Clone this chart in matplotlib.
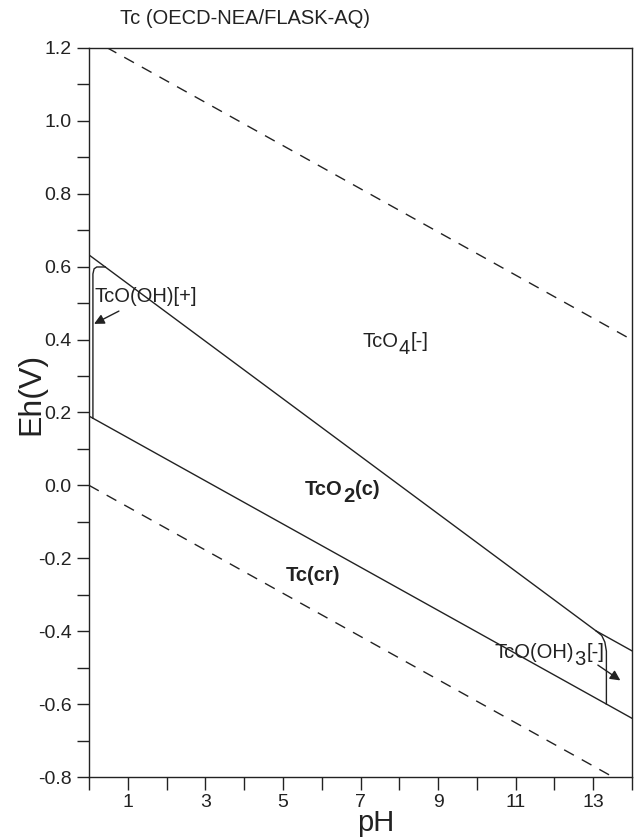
import numpy as np
import matplotlib
matplotlib.use("Agg")
import matplotlib.pyplot as plt

plt.rcParams['font.family'] = ['Liberation Sans', 'DejaVu Sans']

# Eh-pH diagram for Tc
# water stability limits (dashed)
water_ph = [0.0, 14.0]
water_upper = [1.228, 0.399]
water_lower = [0.0, -0.829]

# TcO4[-] / TcO2(c) boundary, kinks at the TcO(OH)3[-] triple point
upper_ph = [0.0, 13.07, 14.0]
upper_eh = [0.632, -0.399, -0.454]

# TcO2(c) / Tc(cr) boundary
lower_ph = [0.0, 14.0]
lower_eh = [0.19, -0.639]

# small TcO(OH)[+] field at low pH
tcooh_ph = [0.42, 0.2, 0.13, 0.1, 0.1]
tcooh_eh = [0.599, 0.599, 0.594, 0.58, 0.184]

# small TcO(OH)3[-] field at high pH
tcooh3_ph = [13.07, 13.22, 13.30, 13.34, 13.34]
tcooh3_eh = [-0.399, -0.412, -0.43, -0.455, -0.600]

xticks = list(range(0, 15))
xlabels = ["", "1", "", "3", "", "5", "", "7", "", "9", "", "11", "", "13", ""]
yticks = [-0.8, -0.7, -0.6, -0.5, -0.4, -0.3, -0.2, -0.1, 0.0, 0.1, 0.2,
          0.3, 0.4, 0.5, 0.6, 0.7, 0.8, 0.9, 1.0, 1.1, 1.2]
ylabels = ["-0.8", "", "-0.6", "", "-0.4", "", "-0.2", "", "0.0", "", "0.2",
           "", "0.4", "", "0.6", "", "0.8", "", "1.0", "", "1.2"]

fig = plt.figure(figsize=(6.36, 8.4), dpi=100)
ax = fig.add_axes([0.140, 0.075, 0.8537, 0.868])

lc = "#222222"
fs = 14.5
dash = (0, (8, 6.5))
ax.plot(water_ph, water_upper, color=lc, lw=1.0, ls=dash)
ax.plot(water_ph, water_lower, color=lc, lw=1.0, ls=dash)
ax.plot(upper_ph, upper_eh, color=lc, lw=1.0)
ax.plot(lower_ph, lower_eh, color=lc, lw=1.0)
ax.plot(tcooh_ph, tcooh_eh, color=lc, lw=1.0)
ax.plot(tcooh3_ph, tcooh3_eh, color=lc, lw=1.0)

ax.set_xlim(0, 14)
ax.set_ylim(-0.8, 1.2)
ax.set_xticks(xticks)
ax.set_xticklabels(xlabels)
ax.set_yticks(yticks)
ax.set_yticklabels(ylabels)
ax.tick_params(direction="out", length=9, width=1, labelsize=14, colors=lc, pad=3.5)
for s in ax.spines.values():
    s.set_linewidth(1.0)
    s.set_color(lc)

ax.set_xlabel("pH", fontsize=21, labelpad=-1.5, color=lc)
ax.xaxis.label.set_x(0.528)
ax.set_ylabel("Eh(V)", fontsize=23, color=lc)
ax.yaxis.set_label_coords(-0.078, 0.525)

fig.text(0.189, 0.978, "Tc (OECD-NEA/FLASK-AQ)", fontsize=fs, va="center", color=lc)


# species names with full size, lowered subscripts like the original
# parts: list of (text, lowered?)
def chem(x, y, parts, weight="normal", drop=5.0):
    prev = ax.text(x, y, parts[0][0], fontsize=fs, ha="left", va="baseline",
                   fontweight=weight, color=lc)
    shift = -drop if parts[0][1] else 0.0
    for s, sub in parts[1:]:
        new = -drop if sub else 0.0
        dx = 0.0 if sub else 1.0
        prev = ax.annotate(s, xy=(1, 0), xycoords=prev, xytext=(dx, new - shift),
                           textcoords="offset points", ha="left", va="bottom",
                           fontsize=fs, fontweight=weight, color=lc)
        shift = new


chem(7.05, 0.38, [("TcO", False), ("4", True), ("[-]", False)])
chem(5.57, -0.026, [("TcO", False), ("2", True), ("(c)", False)], weight="bold")
chem(5.08, -0.262, [("Tc(cr)", False)], weight="bold")
chem(10.46, -0.474, [("TcO(OH)", False), ("3", True), ("[-]", False)])
ax.text(0.13, 0.517, "TcO(OH)[+]", fontsize=fs, ha="left", va="center", color=lc)

# arrows pointing into the two small fields
arrow = dict(arrowstyle="-|>", color=lc, lw=1.0, mutation_scale=15, shrinkA=0, shrinkB=0)
ax.annotate("", xy=(0.13, 0.443), xytext=(0.77, 0.478), arrowprops=arrow)
ax.annotate("", xy=(13.70, -0.535), xytext=(13.12, -0.493), arrowprops=arrow)

fig.savefig("out.png", dpi=100)
